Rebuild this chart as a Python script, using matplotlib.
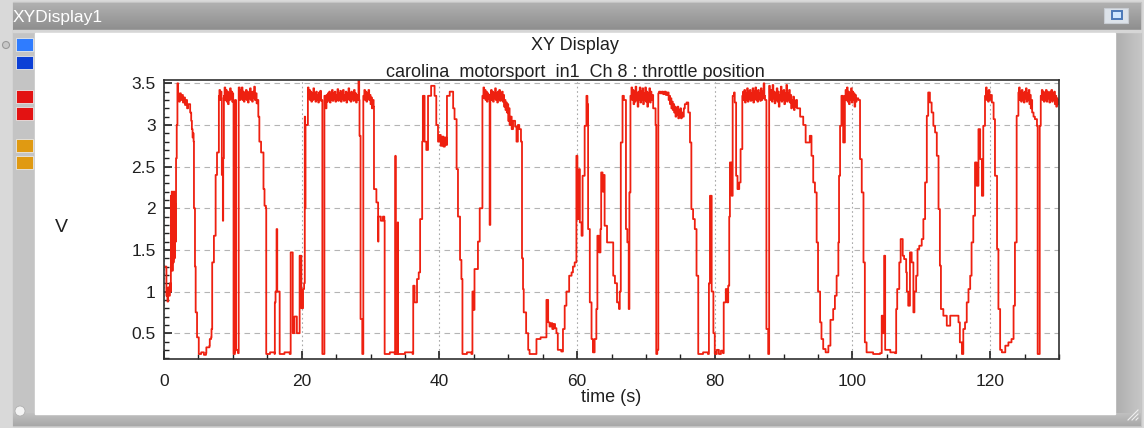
import numpy as np
import matplotlib.pyplot as plt
from matplotlib.patches import Rectangle, Circle
from matplotlib.ticker import MultipleLocator, FormatStrFormatter

plt.rcParams['font.family'] = ['Liberation Sans', 'DejaVu Sans']

W, H = 1144, 428

# throttle position trace (time s, volts)
seg_0_26 = [
    (0.2, 1.30), (0.35, 0.95), (0.5, 0.88), (0.6, 1.05), (0.75, 0.95), (0.85, 1.10), (0.95, 1.00),
    (1.0, 2.15), (1.05, 1.30), (1.12, 2.20), (1.2, 1.25), (1.28, 2.10), (1.35, 1.35), (1.42, 2.20),
    (1.5, 1.40), (1.58, 2.05), (1.65, 1.60), (1.75, 2.60), (1.85, 3.00), (1.95, 3.50),
    (2.05, 3.35), (2.2, 3.28), (2.3, 3.38), (2.45, 3.30), (2.6, 3.36), (2.75, 3.27), (2.9, 3.33),
    (3.05, 3.24), (3.2, 3.30), (3.35, 3.20), (3.5, 3.25), (3.6, 3.25), (3.8, 3.15), (3.95, 3.05),
    (4.05, 2.95), (4.15, 2.85), (4.2, 2.90), (4.3, 2.80), (4.35, 2.00), (4.5, 1.30), (4.6, 0.75),
    (4.8, 0.45), (5.05, 0.25), (5.4, 0.27), (5.8, 0.24), (6.1, 0.26), (6.15, 0.33), (6.6, 0.35),
    (6.65, 0.43), (6.85, 0.45), (6.9, 0.55), (7.0, 1.35), (7.25, 1.67), (7.5, 2.40), (7.7, 2.67),
    (7.97, 3.35), (8.05, 3.42), (8.15, 3.30), (8.25, 3.40), (8.35, 3.32), (8.4, 2.40), (8.55, 1.85),
    (8.6, 2.60), (8.7, 3.35), (8.8, 3.45), (8.9, 3.30), (9.0, 3.42), (9.1, 3.28), (9.2, 3.40),
    (9.3, 3.25), (9.4, 3.38), (9.5, 3.30), (9.6, 3.44), (9.7, 3.32), (9.8, 3.40), (9.9, 3.28),
    (10.0, 3.38), (10.05, 3.30), (10.1, 0.25), (10.3, 0.28), (10.35, 3.30), (10.45, 0.30),
    (10.75, 0.26), (10.85, 3.45), (11.0, 3.30), (11.1, 3.42), (11.2, 3.32), (11.3, 3.45),
    (11.4, 3.30), (11.5, 3.40), (11.6, 3.28), (11.7, 3.38), (11.8, 3.31), (11.9, 3.42), (12.0, 3.30),
    (12.1, 3.40), (12.2, 3.27), (12.3, 3.38), (12.4, 3.32), (12.5, 3.44), (12.6, 3.30), (12.7, 3.39),
    (12.8, 3.28), (12.9, 3.40), (13.0, 3.33), (13.1, 3.46), (13.2, 3.30), (13.3, 3.38), (13.45, 3.26),
    (13.6, 3.30), (13.7, 3.10), (13.85, 2.80), (14.1, 2.67), (14.45, 2.23), (14.6, 2.03), (14.8, 2.00),
    (14.85, 0.25), (15.4, 0.27), (16.06, 0.25), (16.1, 0.87), (16.2, 1.00), (16.35, 1.75), (16.45, 1.00),
    (16.55, 1.00), (16.8, 0.25), (17.5, 0.27), (18.25, 0.25), (18.4, 1.47), (18.7, 0.50), (18.95, 0.70),
    (19.3, 0.50), (19.7, 1.43), (19.95, 0.80), (20.2, 1.03), (20.35, 1.10), (20.45, 3.10), (20.5, 2.00),
    (20.55, 3.00), (20.9, 3.45), (21.0, 3.32), (21.1, 3.42), (21.2, 3.30), (21.3, 3.40), (21.4, 3.28),
    (21.5, 3.38), (21.6, 3.30), (21.7, 3.44), (21.8, 3.31), (21.9, 3.38), (22.0, 3.28), (22.1, 3.40),
    (22.2, 3.30), (22.3, 3.36), (22.4, 3.27), (22.5, 3.39), (22.6, 3.30), (22.7, 3.41), (22.8, 3.29),
    (22.95, 3.30), (23.0, 0.25), (23.25, 0.25), (23.3, 3.35), (23.4, 3.30), (23.5, 3.20), (23.6, 3.36),
    (23.7, 3.28), (23.8, 3.38), (23.9, 3.30), (24.0, 3.40), (24.1, 3.27), (24.2, 3.37), (24.3, 3.30),
    (24.4, 3.42), (24.5, 3.29), (24.6, 3.38), (24.7, 3.31), (24.8, 3.40), (24.9, 3.28), (25.0, 3.36),
    (25.1, 3.30), (25.2, 3.43), (25.3, 3.29), (25.4, 3.38), (25.5, 3.30), (25.6, 3.41), (25.7, 3.28),
    (25.8, 3.37), (25.9, 3.31),
]

seg_26_52 = [
    (26.0, 3.42), (26.1, 3.29), (26.2, 3.36), (26.3, 3.30), (26.4, 3.40), (26.5, 3.27), (26.6, 3.38),
    (26.7, 3.31), (26.8, 3.44), (26.9, 3.30), (27.0, 3.38), (27.1, 3.28), (27.2, 3.40), (27.3, 3.31),
    (27.4, 3.37), (27.5, 3.29), (27.6, 3.42), (27.7, 3.30), (27.8, 3.38), (27.9, 3.27), (28.0, 3.36),
    (28.1, 3.30), (28.25, 3.55), (28.35, 3.30), (28.4, 2.87), (28.55, 0.67), (28.8, 0.25),
    (28.95, 3.35), (29.1, 3.42), (29.2, 3.30), (29.3, 3.40), (29.4, 3.28), (29.5, 3.38), (29.6, 3.31),
    (29.7, 3.42), (29.8, 3.30), (29.9, 3.36), (30.0, 3.25), (30.1, 3.33), (30.2, 3.20), (30.3, 3.30),
    (30.45, 3.22), (30.5, 2.23), (30.85, 2.07), (31.1, 1.60), (31.15, 1.90), (31.5, 1.85),
    (31.8, 1.90), (32.0, 1.85), (32.05, 0.25), (32.8, 0.27), (33.5, 0.25), (33.6, 2.63), (33.65, 0.25),
    (33.95, 1.83), (34.0, 0.25), (35.0, 0.27), (36.1, 0.25), (36.2, 1.07), (36.4, 0.87), (36.75, 1.15),
    (37.0, 1.23), (37.2, 1.87), (37.5, 2.80), (37.6, 3.35), (37.85, 2.80), (38.1, 2.70), (38.35, 3.35),
    (38.8, 3.47), (39.3, 3.35), (39.55, 3.00), (39.8, 2.80), (40.0, 2.88), (40.2, 2.75), (40.4, 2.86),
    (40.6, 2.74), (40.8, 2.85), (41.0, 2.76), (41.1, 3.35), (41.5, 3.40), (42.0, 3.20), (42.2, 3.07),
    (42.5, 2.47), (42.7, 1.90), (43.0, 1.38), (43.2, 1.15), (43.35, 0.25), (44.0, 0.27), (44.65, 0.25),
    (44.8, 1.00), (44.95, 0.78), (45.1, 1.27), (45.6, 1.60), (45.86, 2.00), (46.25, 3.35),
    (46.4, 3.45), (46.5, 3.32), (46.6, 3.42), (46.7, 3.30), (46.8, 3.40), (46.9, 3.28), (47.0, 3.38),
    (47.1, 3.31), (47.2, 3.36), (47.3, 1.80), (47.4, 3.35), (47.5, 3.42), (47.6, 3.30), (47.7, 3.40),
    (47.8, 3.28), (47.9, 3.38), (48.0, 3.32), (48.1, 3.44), (48.2, 3.30), (48.3, 3.38), (48.4, 3.27),
    (48.5, 3.40), (48.6, 3.31), (48.7, 3.42), (48.8, 3.29), (48.9, 3.37), (49.0, 3.30), (49.1, 3.40),
    (49.2, 3.28), (49.3, 3.36), (49.4, 3.22), (49.5, 3.30), (49.6, 3.18), (49.7, 3.27), (49.8, 3.15),
    (49.9, 3.25), (50.0, 3.05), (50.1, 3.20), (50.2, 3.00), (50.3, 3.10), (50.5, 2.95), (50.7, 3.05),
    (51.0, 2.98), (51.2, 2.80), (51.4, 3.00), (51.6, 2.95), (51.85, 2.80),
]

seg_52_78 = [
    (52.0, 1.40), (52.15, 1.03), (52.25, 0.75), (52.6, 0.50), (52.9, 0.30), (53.1, 0.25), (53.85, 0.25),
    (54.1, 0.43), (54.7, 0.45), (55.3, 0.45), (55.55, 0.90), (55.8, 0.63), (56.0, 0.58), (56.2, 0.62),
    (56.4, 0.55), (56.6, 0.61), (56.8, 0.56), (57.0, 0.50), (57.2, 0.30), (57.7, 0.28), (57.95, 0.55),
    (58.2, 0.83), (58.45, 1.00), (58.85, 1.19), (59.2, 1.23), (59.4, 1.30), (59.65, 1.35), (59.9, 2.63),
    (60.05, 1.87), (60.3, 2.47), (60.4, 1.83), (60.65, 1.67), (60.8, 2.39), (61.1, 2.99), (61.36, 3.35),
    (61.5, 3.25), (61.6, 1.75), (61.85, 0.87), (62.1, 0.43), (62.3, 0.27), (62.55, 0.43), (62.8, 0.79),
    (62.95, 1.67), (63.2, 1.47), (63.4, 1.75), (63.5, 2.43), (63.7, 2.20), (63.9, 2.40), (64.0, 1.79),
    (64.35, 1.59), (64.75, 1.59), (65.25, 1.19), (65.5, 1.10), (65.8, 0.87), (66.1, 0.79), (66.2, 1.00),
    (66.35, 2.79), (66.6, 3.35), (66.8, 3.30), (67.1, 1.75), (67.3, 1.59), (67.5, 0.79), (67.6, 2.19),
    (67.75, 3.35), (67.9, 3.45), (68.0, 3.30), (68.1, 3.42), (68.2, 3.25), (68.3, 3.40), (68.4, 3.28),
    (68.5, 3.46), (68.6, 3.30), (68.7, 3.38), (68.8, 3.22), (68.9, 3.40), (69.0, 3.30), (69.1, 3.45),
    (69.2, 3.27), (69.3, 3.40), (69.4, 3.30), (69.5, 3.44), (69.6, 3.25), (69.7, 3.38), (69.8, 3.30),
    (69.9, 3.45), (70.0, 3.28), (70.1, 3.40), (70.2, 3.22), (70.3, 3.38), (70.4, 3.30), (70.5, 3.44),
    (70.6, 3.27), (70.7, 3.40), (70.8, 3.30), (70.9, 3.36), (71.05, 3.20), (71.4, 3.00), (71.5, 0.25),
    (71.65, 0.30), (71.8, 3.38), (71.9, 3.40), (72.1, 3.38), (72.3, 3.40), (72.5, 3.37), (72.7, 3.40),
    (72.9, 3.36), (73.1, 3.39), (73.3, 3.30), (73.4, 3.35), (73.5, 3.25), (73.6, 3.32), (73.7, 3.20),
    (73.8, 3.28), (73.9, 3.18), (74.0, 3.25), (74.1, 3.15), (74.2, 3.22), (74.3, 3.10), (74.4, 3.20),
    (74.5, 3.12), (74.6, 3.22), (74.7, 3.08), (74.8, 3.18), (74.9, 3.10), (75.0, 3.20), (75.1, 3.08),
    (75.2, 3.15), (75.3, 3.10), (75.5, 3.20), (75.65, 3.25), (75.9, 3.27), (76.15, 3.15), (76.4, 2.79),
    (76.6, 1.99), (76.85, 1.87), (77.1, 1.75), (77.35, 1.19), (77.6, 0.25),
]

seg_78_104 = [
    (78.3, 0.27), (79.0, 0.25), (79.15, 1.10), (79.3, 2.15), (79.55, 1.00), (79.8, 0.50), (80.0, 0.25),
    (80.3, 0.30), (80.6, 0.25), (80.9, 0.29), (81.2, 0.26), (81.3, 0.87), (81.6, 1.03), (81.8, 0.87),
    (81.95, 1.07), (82.1, 1.90), (82.2, 2.55), (82.45, 2.15), (82.6, 3.35), (82.8, 3.39), (82.9, 3.27),
    (83.1, 2.39), (83.3, 2.23), (83.55, 2.31), (83.75, 2.71), (84.0, 3.35), (84.1, 3.40), (84.2, 3.30),
    (84.3, 3.42), (84.4, 3.27), (84.5, 3.38), (84.6, 3.30), (84.7, 3.44), (84.8, 3.28), (84.9, 3.40),
    (85.0, 3.31), (85.1, 3.42), (85.2, 3.29), (85.3, 3.38), (85.4, 3.30), (85.5, 3.44), (85.6, 3.27),
    (85.7, 3.40), (85.8, 3.32), (85.9, 3.45), (86.0, 3.30), (86.1, 3.40), (86.2, 3.28), (86.3, 3.42),
    (86.4, 3.31), (86.5, 3.38), (86.6, 3.29), (86.7, 3.44), (86.8, 3.30), (86.9, 3.40), (87.0, 3.32),
    (87.1, 3.50), (87.2, 3.35), (87.3, 3.30), (87.5, 0.55), (87.76, 0.25), (87.9, 3.47), (88.0, 3.38),
    (88.1, 3.30), (88.2, 3.42), (88.3, 3.28), (88.4, 3.48), (88.5, 3.32), (88.6, 3.40), (88.7, 3.26),
    (88.8, 3.38), (88.9, 3.30), (89.0, 3.44), (89.1, 3.28), (89.2, 3.40), (89.3, 3.22), (89.4, 3.36),
    (89.5, 3.30), (89.6, 3.46), (89.7, 3.28), (89.8, 3.40), (89.9, 3.30), (90.0, 3.42), (90.1, 3.25),
    (90.2, 3.38), (90.3, 3.30), (90.4, 3.48), (90.5, 3.28), (90.6, 3.38), (90.7, 3.30), (90.8, 3.42),
    (90.9, 3.27), (91.0, 3.36), (91.1, 3.20), (91.2, 3.30), (91.3, 3.22), (91.4, 3.34), (91.5, 3.18),
    (91.6, 3.28), (91.7, 3.22), (91.8, 3.30), (91.95, 3.20), (92.4, 3.10), (92.85, 3.00), (93.2, 2.79),
    (93.55, 2.79), (93.8, 2.87), (94.05, 2.63), (94.3, 2.31), (94.55, 2.19), (94.8, 1.59), (95.0, 1.00),
    (95.3, 0.63), (95.5, 0.43), (95.75, 0.31), (96.1, 0.27), (96.5, 0.35), (96.8, 0.66), (97.2, 0.79),
    (97.45, 0.95), (97.7, 1.19), (97.95, 1.59), (98.05, 2.39), (98.2, 2.99), (98.4, 3.35), (98.65, 2.79),
    (98.9, 3.35), (99.0, 3.42), (99.1, 3.30), (99.2, 3.45), (99.3, 3.28), (99.4, 3.40), (99.5, 3.25),
    (99.6, 3.38), (99.7, 3.30), (99.8, 3.44), (99.9, 3.27), (100.0, 3.40), (100.1, 3.30), (100.2, 3.38),
    (100.3, 3.22), (100.4, 3.36), (100.5, 3.28), (100.6, 3.32), (100.85, 3.30), (101.1, 2.59),
    (101.35, 2.19), (101.6, 1.35), (101.8, 0.39), (102.05, 0.27), (103.0, 0.25), (104.0, 0.26),
]

seg_104_130 = [
    (104.25, 0.71), (104.4, 0.50), (104.6, 1.43), (104.75, 0.30), (105.5, 0.27), (106.2, 0.26),
    (106.35, 0.79), (106.5, 1.03), (106.8, 1.35), (107.0, 1.63), (107.3, 1.43), (107.5, 1.39),
    (107.8, 1.23), (107.9, 1.00), (108.1, 0.83), (108.35, 1.47), (108.6, 1.35), (108.85, 0.75),
    (109.0, 1.00), (109.25, 1.19), (109.45, 1.51), (109.7, 1.55), (110.06, 1.63), (110.3, 1.87),
    (110.55, 2.31), (110.8, 3.11), (111.0, 3.39), (111.25, 3.27), (111.5, 3.15), (111.75, 2.99),
    (112.0, 2.91), (112.25, 2.63), (112.5, 1.99), (112.7, 1.31), (112.85, 0.79), (113.2, 0.71),
    (113.7, 0.59), (114.2, 0.71), (114.7, 0.71), (115.15, 0.71), (115.4, 0.63), (115.6, 0.39),
    (115.9, 0.25), (116.1, 0.55), (116.35, 0.63), (116.6, 0.87), (116.85, 1.03), (117.1, 1.19),
    (117.3, 1.59), (117.55, 1.91), (117.8, 2.55), (118.05, 2.27), (118.3, 2.95), (118.55, 2.59),
    (118.8, 2.15), (119.0, 2.99), (119.25, 3.35), (119.3, 3.35), (119.4, 3.45), (119.5, 3.30),
    (119.6, 3.40), (119.7, 3.28), (119.8, 3.42), (119.9, 3.30), (120.0, 3.36), (120.25, 3.27),
    (120.5, 3.07), (120.7, 2.39), (121.0, 1.51), (121.2, 0.79), (121.45, 0.30), (121.7, 0.27),
    (122.2, 0.35), (122.65, 0.39), (123.1, 0.43), (123.4, 0.83), (123.6, 1.59), (123.85, 3.11),
    (124.1, 3.39), (124.2, 3.45), (124.3, 3.30), (124.4, 3.40), (124.5, 3.28), (124.6, 3.42),
    (124.7, 3.30), (124.8, 3.38), (124.9, 3.27), (125.0, 3.40), (125.1, 3.32), (125.2, 3.44),
    (125.3, 3.28), (125.4, 3.38), (125.5, 3.30), (125.6, 3.42), (125.7, 3.25), (125.8, 3.36),
    (125.9, 3.20), (126.0, 3.30), (126.1, 3.15), (126.3, 3.10), (126.5, 3.07), (126.8, 2.99),
    (126.9, 0.25), (127.1, 0.25), (127.2, 2.99), (127.35, 3.35), (127.5, 3.42), (127.6, 3.30),
    (127.7, 3.40), (127.8, 3.28), (127.9, 3.38), (128.0, 3.30), (128.1, 3.42), (128.2, 3.28),
    (128.3, 3.40), (128.4, 3.32), (128.5, 3.38), (128.6, 3.27), (128.7, 3.40), (128.8, 3.30),
    (128.9, 3.42), (129.0, 3.28), (129.1, 3.38), (129.2, 3.30), (129.3, 3.40), (129.4, 3.25),
    (129.5, 3.35), (129.6, 3.22), (129.7, 3.32), (129.8, 3.25), (130.0, 3.30),
]

window_title = 'XYDisplay1'
plot_title = 'XY Display'
channel_title = 'carolina_motorsport_in1  Ch 8 : throttle position'
x_label = 'time (s)'
y_label = 'V'
legend_colors = ['#2f7cff', '#0b3fd6', '#e31212', '#e31212', '#e09a12', '#e09a12']

trace = seg_0_26 + seg_26_52 + seg_52_78 + seg_78_104 + seg_104_130
time_s = [p[0] for p in trace]
throttle_v = [p[1] for p in trace]

fig = plt.figure(figsize=(W / 100, H / 100), dpi=100)
fig.patch.set_facecolor('#d9d9d9')

# window chrome drawn in pixel coords on a background axes
bg = fig.add_axes([0, 0, 1, 1])
bg.set_xlim(0, W)
bg.set_ylim(H, 0)
bg.axis('off')


def grad(x0, x1, y0, y1, c_top, c_bot, horizontal=False):
    a = np.array(plt.matplotlib.colors.to_rgb(c_top))
    b = np.array(plt.matplotlib.colors.to_rgb(c_bot))
    f = np.linspace(0, 1, 64)[:, None]
    img = a + (b - a) * f
    img = img[:, None, :] if not horizontal else img[None, :, :]
    bg.imshow(img, extent=(x0, x1, y1, y0), aspect='auto', interpolation='bilinear', zorder=1)


# outer frame
bg.add_patch(Rectangle((13, 2), 1128, 424, color='#c4c4c4', zorder=0.5))
grad(13, 1141, 3, 30, '#b0b0b0', '#8e8e8e')
bg.add_patch(Rectangle((13, 30), 1128, 2, color='#d6d6d6', zorder=2))
grad(1115, 1141, 32, 415, '#aeaeae', '#c6c6c6', horizontal=True)
grad(13, 1141, 413, 426, '#c0c0c0', '#a8a8a8')
bg.add_patch(Rectangle((35, 33), 1080, 381, color='white', zorder=2))
bg.text(13, 17, window_title, color='white', fontsize=12.5, va='center', ha='left', zorder=3)

# maximise button top right
bg.add_patch(Rectangle((1104, 8), 24, 15, facecolor='#dde3ea', edgecolor='#c8ccd2', lw=0.8, zorder=3))
bg.add_patch(Rectangle((1112, 11), 10, 8, facecolor='#cfe6ff', edgecolor='#4a78b8', lw=1.4, zorder=4))

# little handles
bg.add_patch(Circle((6, 45), 3.5, facecolor='#c8c8c8', edgecolor='#9a9a9a', lw=0.8, zorder=3))
bg.add_patch(Circle((20, 411), 5, facecolor='#f4f4f4', edgecolor='#b0b0b0', lw=0.6, zorder=3))
for k in range(3):
    bg.plot([1128 + 4 * k, 1138], [420, 410 + 4 * k], color='#f0f0f0', lw=0.8, zorder=3)

# channel colour swatches on the left strip
sw_y = [38, 56, 90, 107, 139, 156]
for c, y in zip(legend_colors, sw_y):
    bg.add_patch(Rectangle((16, y), 17, 13, facecolor=c, edgecolor='#e8e8e8', lw=0.6, zorder=3))

# plot area
ax = fig.add_axes([164 / W, 1 - 359 / H, (1059 - 164) / W, (359 - 80) / H])
ax.set_zorder(5)
ax.plot(time_s, throttle_v, color='#ee2010', lw=1.3, drawstyle='steps-post')
ax.set_xlim(0, 130)
ax.set_ylim(0.19, 3.54)
ax.xaxis.set_major_locator(MultipleLocator(20))
ax.xaxis.set_minor_locator(MultipleLocator(5))
ax.yaxis.set_major_locator(MultipleLocator(0.5))
ax.yaxis.set_minor_locator(MultipleLocator(0.1))
ax.yaxis.set_major_formatter(FormatStrFormatter('%g'))
ax.set_yticks([0.5, 1, 1.5, 2, 2.5, 3, 3.5])
ax.yaxis.grid(True, color='#b4b4b4', linestyle=(0, (5, 4)), lw=0.8)
ax.xaxis.grid(True, color='#a8a8a8', linestyle=(0, (1.5, 2.5)), lw=0.8)
ax.set_axisbelow(True)
ax.tick_params(which='both', direction='in', top=False, right=False, colors='#202020', labelsize=12.5)
ax.tick_params(which='major', length=6, width=1.2)
ax.tick_params(which='minor', length=3.5, width=1.0)
ax.tick_params(axis='x', pad=11)
ax.tick_params(axis='y', pad=6)
for s in ax.spines.values():
    s.set_color('#303030')
    s.set_linewidth(1.2)

# headings centred on the white panel, x label on the axes
# (subtitle sits right on the frame, its underscores hide behind the axes)
fig.text(575 / W, 1 - 46 / H, plot_title, ha='center', va='center', fontsize=13, color='#202020')
fig.text(575 / W, 1 - 77 / H, channel_title, ha='center', va='baseline', fontsize=13, color='#202020')
fig.text((164 + 1059) / 2 / W, 1 - 397 / H, x_label, ha='center', va='center', fontsize=13, color='#202020')
fig.text(61 / W, 1 - 228 / H, y_label, ha='center', va='center', fontsize=14, color='#202020')

fig.savefig('out.png', dpi=100, facecolor=fig.get_facecolor())
